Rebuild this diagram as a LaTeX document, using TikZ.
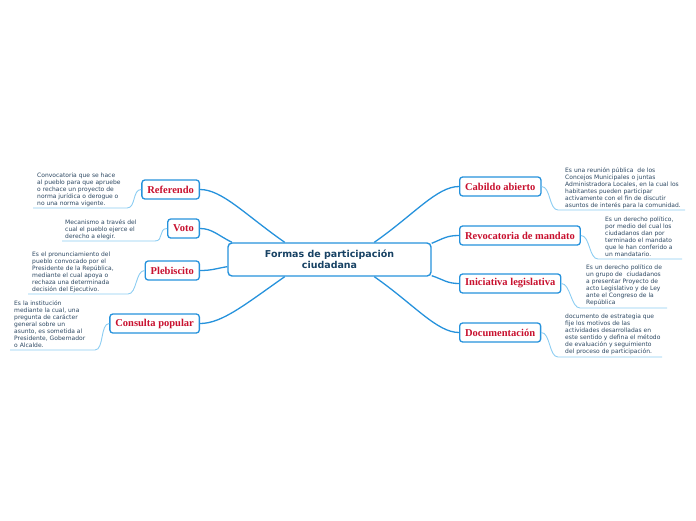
\documentclass[tikz,border=0pt]{standalone}
\usepackage{fontspec}
\newfontfamily\sansdv{DejaVu Sans}
\newfontfamily\serifls{Liberation Serif}
\usetikzlibrary{calc}
\definecolor{mapblue}{RGB}{38,146,220}
\definecolor{twigblue}{RGB}{140,205,242}
\definecolor{labelred}{RGB}{200,16,46}
\definecolor{titlenavy}{RGB}{24,66,100}
\definecolor{desctext}{RGB}{45,72,98}

\begin{document}
\begin{tikzpicture}[x=1pt,y=-1pt,
  central/.style={draw=mapblue, line width=1.4pt, rounded corners=4pt, fill=white, minimum width=203pt, minimum height=33pt, align=center, font=\sansdv\bfseries\fontsize{9.5}{11.5}\selectfont, text=titlenavy},
  topic/.style={draw=mapblue, line width=1.3pt, rounded corners=3pt, fill=white, minimum height=19pt, inner xsep=5.5pt, inner ysep=0pt, font=\serifls\bfseries\fontsize{10.5}{12}\selectfont, text=labelred},
  desc/.style={anchor=north west, inner sep=0pt, align=left, font=\sansdv\fontsize{6}{7}\selectfont, text=desctext},
  branch/.style={draw=mapblue, line width=1.3pt},
  twig/.style={draw=twigblue, line width=0.9pt}]
\useasboundingbox (0,0) rectangle (696,520);

\node[central] (fp) at (329.5,259.5) {Formas de participación\\ciudadana};

\node[topic, anchor=east] (ref) at (200,189.5) {Referendo};
\node[topic, anchor=east] (voto) at (200,228.5) {Voto};
\node[topic, anchor=east] (pleb) at (200,270.5) {Plebiscito};
\node[topic, anchor=east] (cons) at (200,323.5) {Consulta popular};
\node[topic, anchor=west] (cab) at (459,186.5) {Cabildo abierto};
\node[topic, anchor=west] (rev) at (459,235.5) {Revocatoria de mandato};
\node[topic, anchor=west] (ini) at (459,283.5) {Iniciativa legislativa};
\node[topic, anchor=west] (doc) at (459,332.5) {Documentación};

\foreach \n/\a/\s/\dx/\dy in {ref/159/22/-40/-28, voto/170/12/-14/-7, pleb/184/12/-12/2, cons/201/22/-40/28}
  \draw[branch] (\n.east) .. controls +(\s,0) and +(\dx,\dy) .. (fp.\a);
\foreach \n/\a/\s/\dx/\dy in {cab/21/-22/40/-28, rev/9/-12/12/-5, ini/351/-12/12/4, doc/339/-22/40/28}
  \draw[branch] (\n.west) .. controls +(\s,0) and +(\dx,\dy) .. (fp.\a);

\node[desc] (refd) at (37,173) {Convocatoria que se hace\\al pueblo para que apruebe\\o rechace un proyecto de\\norma jurídica o derogue o\\no una norma vigente.};
\node[desc] (votod) at (65,219) {Mecanismo a través del\\cual el pueblo ejerce el\\derecho a elegir.};
\node[desc] (plebd) at (32,251.5) {Es el pronunciamiento del\\pueblo convocado por el\\Presidente de la República,\\mediante el cual apoya o\\rechaza una determinada\\decisión del Ejecutivo.};
\node[desc] (consd) at (14,300.5) {Es la institución\\mediante la cual, una\\pregunta de carácter\\general sobre un\\asunto, es sometida al\\Presidente, Gobernador\\o Alcalde.};
\node[desc] (cabd) at (565,167.5) {Es una reunión pública\ \ de los\\Concejos Municipales o juntas\\Administradora Locales, en la cual los\\habitantes pueden participar\\activamente con el fin de discutir\\asuntos de interés para la comunidad.};
\node[desc] (revd) at (605,216) {Es un derecho político,\\por medio del cual los\\ciudadanos dan por\\terminado el mandato\\que le han conferido a\\un mandatario.};
\node[desc] (inid) at (586,264.5) {Es un derecho político de\\un grupo de\ \ ciudadanos\\a presentar Proyecto de\\acto Legislativo y de Ley\\ante el Congreso de la\\República};
\node[desc] (docd) at (565,313.5) {documento de estrategia que\\fije los motivos de las\\actividades desarrolladas en\\este sentido y defina el método\\de evaluación y seguimiento\\del proceso de participación.};

\coordinate (ref-a) at (127,208);  \coordinate (ref-b) at (33,208);
\coordinate (voto-a) at (155,241); \coordinate (voto-b) at (62,241);
\coordinate (pleb-a) at (128,294); \coordinate (pleb-b) at (28,294);
\coordinate (cons-a) at (95,350);  \coordinate (cons-b) at (10,350);
\coordinate (cab-a) at (558,210);  \coordinate (cab-b) at (685,210);
\coordinate (rev-a) at (598,259);  \coordinate (rev-b) at (682,259);
\coordinate (ini-a) at (580,308);  \coordinate (ini-b) at (667,308);
\coordinate (doc-a) at (558,357);  \coordinate (doc-b) at (662,357);

\foreach \n in {ref,voto,pleb,cons}
  \draw[twig] (\n.west) .. controls +(-9,0) and +(9,0) .. (\n-a) -- (\n-b);
\foreach \n in {cab,rev,ini,doc}
  \draw[twig] (\n.east) .. controls +(9,0) and +(-9,0) .. (\n-a) -- (\n-b);
\end{tikzpicture}
\end{document}
